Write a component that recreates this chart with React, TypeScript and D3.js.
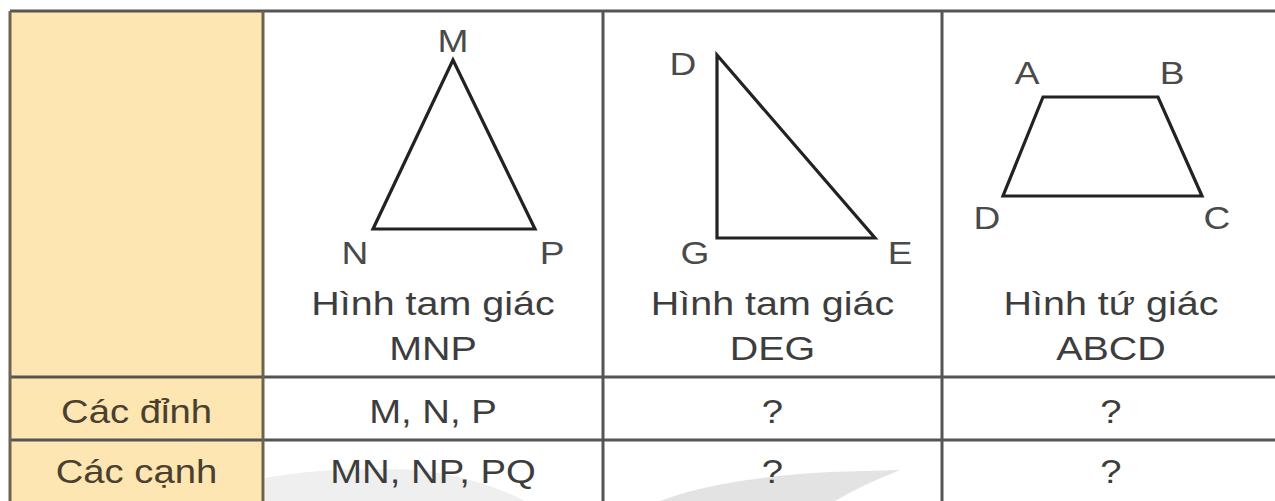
import { useEffect, useRef } from "react";
import * as d3 from "d3";

// table content
const headerTitles = ["", "Hình tam giác\nMNP", "Hình tam giác\nDEG", "Hình tứ giác\nABCD"];
const rowLabels = ["Các đỉnh", "Các cạnh"];
const vertexAnswers = ["M, N, P", "?", "?"];
const edgeAnswers = ["MN, NP, PQ", "?", "?"];

// figure vertices, in pixels from each figure cell's top-left corner
const mnpPoints = [
  { name: "M", x: 190, y: 49, lx: 190, ly: 29 },
  { name: "N", x: 110, y: 218, lx: 92, ly: 241 },
  { name: "P", x: 272, y: 218, lx: 289, ly: 241 },
];
const degPoints = [
  { name: "D", x: 114, y: 44, lx: 80, ly: 52 },
  { name: "G", x: 114, y: 227, lx: 92, ly: 241 },
  { name: "E", x: 272, y: 227, lx: 297, ly: 241 },
];
const abcdPoints = [
  { name: "A", x: 101, y: 86, lx: 85, ly: 61 },
  { name: "B", x: 216, y: 86, lx: 230, ly: 61 },
  { name: "C", x: 260, y: 185, lx: 275, ly: 206 },
  { name: "D", x: 61, y: 185, lx: 45, ly: 206 },
];
const figures = [mnpPoints, degPoints, abcdPoints];

export default function App() {
  const svgRef = useRef<SVGSVGElement | null>(null);

  useEffect(() => {
    if (!svgRef.current) return;
    const width = 1275;
    const height = 501;
    const svg = d3.select(svgRef.current);
    svg.selectAll("*").remove();
    svg.attr("width", width).attr("height", height);

    const font = "'Liberation Sans', Arial, Helvetica, sans-serif";
    const colEdges = [10, 263, 603, 942, 1280];
    const rowEdges = [11, 377, 440, 520];
    const lineColor = "#555";
    const textColor = "#3d3d3d";
    const labelColor = "#4a4030";
    const stretch = 1.16;

    svg.append("rect").attr("width", width).attr("height", height).attr("fill", "#fff");

    // left column fill
    svg.append("rect")
      .attr("x", colEdges[0]).attr("y", rowEdges[0])
      .attr("width", colEdges[1] - colEdges[0]).attr("height", height - rowEdges[0])
      .attr("fill", "#fde6b1");

    // faint watermark in the bottom row
    svg.append("path")
      .attr("d", "M265,501 L265,478 Q330,466 420,470 Q480,478 525,501 Z")
      .attr("fill", "#efefef");
    svg.append("path")
      .attr("d", "M660,501 Q720,478 830,472 L900,470 Q860,486 835,501 Z")
      .attr("fill", "#e3e3e3");

    // grid lines
    const g = svg.append("g").attr("stroke", lineColor).attr("stroke-width", 3);
    rowEdges.slice(0, 3).forEach(y => {
      g.append("line").attr("x1", colEdges[0]).attr("x2", colEdges[4]).attr("y1", y).attr("y2", y);
    });
    colEdges.forEach((x, i) => {
      g.append("line").attr("x1", x).attr("x2", x).attr("y1", rowEdges[0]).attr("y2", height)
        .attr("stroke", i <= 1 ? "#6e6250" : lineColor);
    });

    const addText = (sel: any, txt: string, x: number, y: number, size: number, color: string) => {
      sel.append("text")
        .attr("transform", `translate(${x},${y}) scale(${stretch},1)`)
        .attr("text-anchor", "middle")
        .attr("font-family", font)
        .attr("font-size", size)
        .attr("fill", color)
        .text(txt);
    };

    // header titles
    headerTitles.forEach((t, i) => {
      if (!t) return;
      const cx = (colEdges[i] + colEdges[i + 1]) / 2;
      t.split("\n").forEach((line, k) => {
        addText(svg, line, cx, 315 + k * 45, 34, textColor);
      });
    });

    // figures
    const lineGen = d3.line<{ x: number; y: number }>().x(d => d.x).y(d => d.y);
    figures.forEach((pts, i) => {
      const x0 = colEdges[i + 1];
      const xs = d3.scaleLinear().domain([0, 1]).range([x0, x0 + 1]);
      const ys = d3.scaleLinear().domain([0, 1]).range([rowEdges[0], rowEdges[0] + 1]);
      const mapped = pts.map(p => ({ x: xs(p.x), y: ys(p.y) }));
      svg.append("path")
        .attr("d", lineGen(mapped) + "Z")
        .attr("fill", "none")
        .attr("stroke", "#222")
        .attr("stroke-width", 3.2)
        .attr("stroke-linejoin", "miter");
      pts.forEach(p => {
        addText(svg, p.name, xs(p.lx), ys(p.ly) + 12, 32, "#4a4a4a");
      });
    });

    // body rows
    const rowData = [vertexAnswers, edgeAnswers];
    rowLabels.forEach((lab, r) => {
      const baseY = [423, 483][r];
      addText(svg, lab, (colEdges[0] + colEdges[1]) / 2, baseY, 33, labelColor);
      rowData[r].forEach((v, c) => {
        addText(svg, v, (colEdges[c + 1] + colEdges[c + 2]) / 2, baseY, 33, textColor);
      });
    });
  }, []);

  return (
    <svg
      ref={svgRef}
      style={{ position: "absolute", left: 0, top: 0, display: "block" }}
    />
  );
}
